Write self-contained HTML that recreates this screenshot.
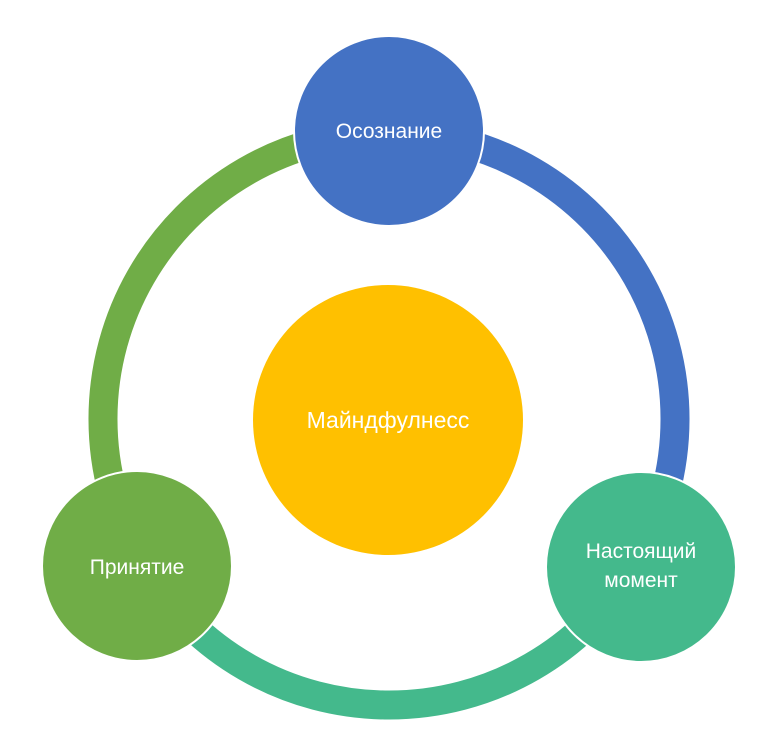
<!DOCTYPE html>
<html><head><meta charset="utf-8"><style>
html,body{margin:0;padding:0;background:#fff;}
svg{display:block}
text{font-family:"Liberation Sans","DejaVu Sans",sans-serif;fill:#fff;text-anchor:middle;}
</style></head><body>
<svg width="768" height="751" viewBox="0 0 768 751" xmlns="http://www.w3.org/2000/svg">
<g fill="none" stroke-width="29">
<path d="M389 133 A286 286 0 0 1 636.7 562" stroke="#4472C4"/>
<path d="M636.7 562 A286 286 0 0 1 141.3 562" stroke="#44B98C"/>
<path d="M141.3 562 A286 286 0 0 1 389 133" stroke="#70AD47"/>
</g>
<circle cx="388" cy="420" r="135" fill="#FFC000"/>
<circle cx="389" cy="131" r="95" fill="#4472C4" stroke="#fff" stroke-width="2"/>
<circle cx="137" cy="566" r="95" fill="#70AD47" stroke="#fff" stroke-width="2"/>
<circle cx="641" cy="567" r="95" fill="#44B98C" stroke="#fff" stroke-width="2"/>
<text x="389" y="138" font-size="21">Осознание</text>
<text x="388" y="428" font-size="23">Майндфулнесс</text>
<text x="137" y="574" font-size="21">Принятие</text>
<text x="641" y="558" font-size="21">Настоящий</text>
<text x="641" y="587" font-size="21">момент</text>
</svg>
</body></html>
